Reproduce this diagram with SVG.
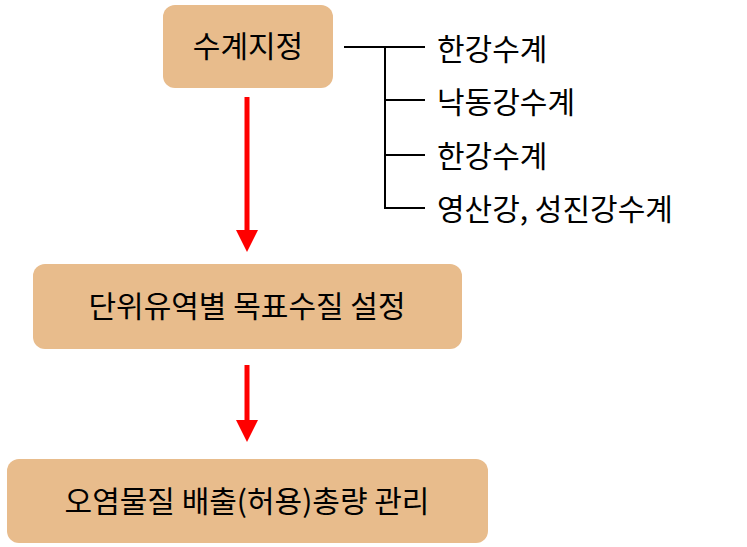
<svg xmlns="http://www.w3.org/2000/svg" width="747" height="547" viewBox="0 0 747 547">
<style>
.box{fill:#E8BC8C}
.t{font-family:"Noto Sans CJK KR","Noto Sans",sans-serif;font-size:30px;fill:#000}
.l{stroke:#000;stroke-width:2;fill:none}
.a{stroke:#FF0000;stroke-width:5;fill:none}
</style>
<defs><marker id="ah" markerWidth="6" markerHeight="6" refX="3" refY="3" orient="auto" markerUnits="userSpaceOnUse" viewBox="0 0 6 6"><path d="M0,0L6,3L0,6Z" fill="#FF0000"/></marker></defs>
<g id="n1"><rect class="box" x="163" y="5" width="170" height="83" rx="12"/><text class="t" x="248" y="57" text-anchor="middle">수계지정</text></g>
<g id="n2"><rect class="box" x="33" y="264" width="429" height="85" rx="12"/><text class="t" x="247" y="317" text-anchor="middle">단위유역별 목표수질 설정</text></g>
<g id="n3"><rect class="box" x="7" y="459" width="481" height="84" rx="12"/><text class="t" x="247" y="512" text-anchor="middle">오염물질 배출(허용)총량 관리</text></g>
<g id="list">
<text class="t" x="437" y="60">한강수계</text>
<text class="t" x="437" y="113">낙동강수계</text>
<text class="t" x="437" y="167">한강수계</text>
<text class="t" x="437" y="220">영산강, 성진강수계</text>
</g>
<g id="connectors">
<path class="l" d="M344,47H425M385,47V208H425M385,100H425M385,155H425"/>
<line x1="247" y1="97" x2="247" y2="232" stroke="#FF0000" stroke-width="5"/>
<path d="M236,230L258,230L247,252Z" fill="#FF0000"/>
<line x1="247" y1="365" x2="247" y2="422" stroke="#FF0000" stroke-width="5"/>
<path d="M236,420L258,420L247,442Z" fill="#FF0000"/>
</g>
</svg>
